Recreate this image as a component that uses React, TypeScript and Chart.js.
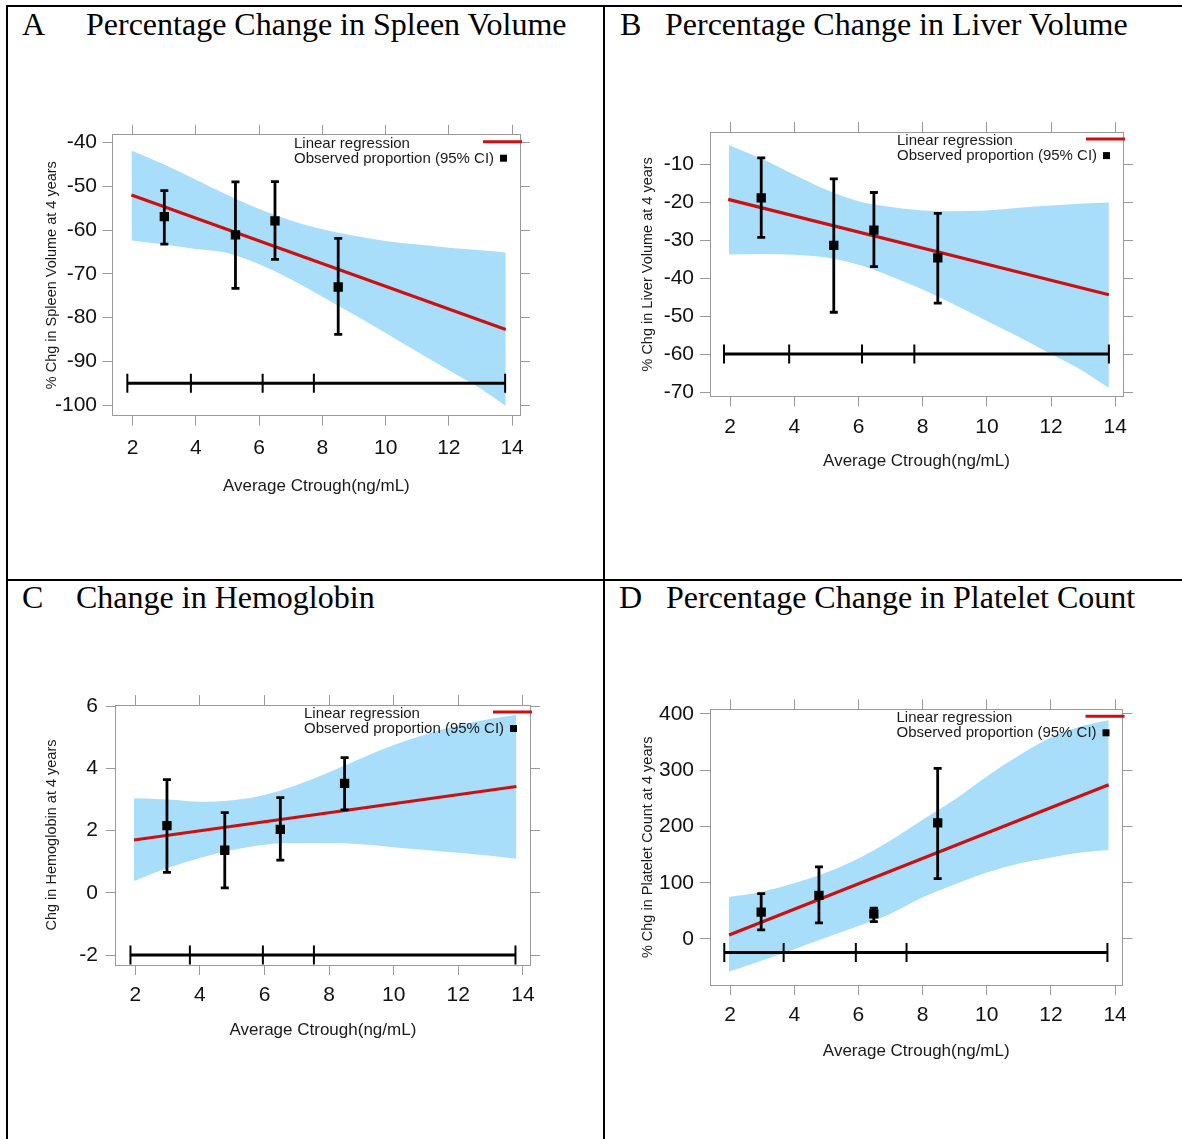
import React, { useEffect, useRef } from "react";
import { Chart, registerables } from "chart.js";

Chart.register(...registerables);

// ---------- shared data ----------
const xTicks = [2, 4, 6, 8, 10, 12, 14];
const bandX = [1.96, 3, 4, 5, 6, 7, 8, 9, 10, 11, 12, 13, 13.8];
const legendLabels = ["Linear regression", "Observed proportion (95% CI)"];
const xAxisTitle = "Average Ctrough(ng/mL)";

// ---------- A: spleen ----------
const spleenYTicks = [-40, -50, -60, -70, -80, -90, -100];
const spleenPointX = [3.0, 5.25, 6.5, 8.5];
const spleenPointY = [-56.9, -61.1, -57.9, -73.0];
const spleenLow = [-63.2, -73.3, -66.7, -83.8];
const spleenHigh = [-51.0, -49.0, -48.9, -61.9];
const spleenLineX = [1.96, 13.8];
const spleenLineY = [-52.0, -82.7];
const spleenUpper = [-41.8, -45.0, -48.5, -52.0, -55.2, -57.8, -59.8, -61.3, -62.5, -63.3, -64.0, -64.6, -65.1];
const spleenLower = [-62.4, -63.3, -64.3, -65.2, -67.8, -71.2, -75.2, -79.3, -83.5, -87.8, -92.0, -96.2, -100.2];
const spleenRugX = [1.83, 3.84, 6.11, 7.73, 13.78];
const spleenRugY = -95;

// ---------- B: liver ----------
const liverYTicks = [-10, -20, -30, -40, -50, -60, -70];
const liverPointX = [2.97, 5.23, 6.48, 8.47];
const liverPointY = [-18.9, -31.4, -27.4, -34.7];
const liverLow = [-29.3, -49.0, -37.0, -46.6];
const liverHigh = [-8.4, -13.9, -17.5, -23.0];
const liverLineX = [1.94, 13.8];
const liverLineY = [-19.3, -44.4];
const liverUpper = [-5.0, -8.7, -12.8, -16.8, -19.8, -21.3, -22.2, -22.4, -22.2, -21.5, -20.9, -20.4, -20.1];
const liverLower = [-33.8, -33.7, -33.9, -34.6, -36.5, -39.5, -43.0, -47.0, -51.3, -55.5, -60.0, -64.5, -68.9];
const liverRugX = [1.81, 3.84, 6.11, 7.74, 13.8];
const liverRugY = -60;

// ---------- C: hemoglobin ----------
const hgbYTicks = [6, 4, 2, 0, -2];
const hgbPointX = [2.98, 4.77, 6.49, 8.48];
const hgbPointY = [2.16, 1.37, 2.04, 3.52];
const hgbLow = [0.66, 0.16, 1.05, 2.67];
const hgbHigh = [3.64, 2.58, 3.06, 4.35];
const hgbLineX = [1.96, 13.8];
const hgbLineY = [1.7, 3.42];
const hgbUpper = [3.04, 3.0, 2.93, 2.98, 3.15, 3.47, 3.88, 4.33, 4.75, 5.1, 5.38, 5.6, 5.72];
const hgbLower = [0.38, 0.8, 1.12, 1.38, 1.55, 1.6, 1.6, 1.56, 1.47, 1.38, 1.29, 1.19, 1.1];
const hgbRugX = [1.85, 3.69, 5.95, 7.53, 13.77];
const hgbRugY = -2;

// ---------- D: platelets ----------
const pltYTicks = [400, 300, 200, 100, 0];
const pltPointX = [2.97, 4.77, 6.48, 8.47];
const pltPointY = [47.7, 77.5, 44.7, 206.3];
const pltLow = [16.1, 28.6, 31.0, 107.3];
const pltHigh = [80.5, 128.2, 54.8, 303.4];
const pltLineX = [1.97, 13.8];
const pltLineY = [7.2, 274.2];
const pltUpper = [74.5, 84, 99, 118, 143, 175, 212, 248, 289, 326, 358, 379, 389];
const pltLower = [-58, -38, -18, 2.5, 23, 45, 74, 97, 118, 134, 145, 154, 158];
const pltRugX = [1.82, 3.67, 5.92, 7.5, 13.76];
const pltRugY = -24;

// ---------- styles ----------
const GRAY = "#9a9a9a";
const RED = "#cc1010";
const BAND = "rgb(168, 222, 250)";
const SANS = "'Liberation Sans', Arial, sans-serif";
const TICK_FONT = 21;
const XTITLE_FONT = 17;
const YTITLE_FONT = 14.5;
const TICK_LEN = 10;

type PanelCfg = {
  letter: string;
  title: string;
  letterLeft: number;
  textLeft: number;
  baseline: number;
  canvas: { left: number; top: number; width: number; height: number };
  box: { l: number; t: number; r: number; b: number };
  xMin: number;
  xMax: number;
  yMin: number;
  yMax: number;
  yTicks: number[];
  yTitle: string;
  xTitleY: number;
  yTitleX: number;
  xLabelY: number;
  yLabelRight: number;
  ptX: number[];
  ptY: number[];
  lo: number[];
  hi: number[];
  lineX: number[];
  lineY: number[];
  upper: number[];
  lower: number[];
  rugX: number[];
  rugY: number;
};

const panels: PanelCfg[] = [
  {
    letter: "A", title: "Percentage Change in Spleen Volume", letterLeft: 22, textLeft: 86, baseline: 35,
    canvas: { left: 8, top: 60, width: 594, height: 518 },
    box: { l: 112.7, t: 134.7, r: 520, b: 415.7 },
    xMin: 1.367, xMax: 14.25, yMin: -102.4, yMax: -38.2, yTicks: spleenYTicks,
    yTitle: "% Chg in Spleen Volume at 4 years", xTitleY: 486, yTitleX: 52, xLabelY: 448, yLabelRight: 97,
    ptX: spleenPointX, ptY: spleenPointY, lo: spleenLow, hi: spleenHigh,
    lineX: spleenLineX, lineY: spleenLineY, upper: spleenUpper, lower: spleenLower,
    rugX: spleenRugX, rugY: spleenRugY,
  },
  {
    letter: "B", title: "Percentage Change in Liver Volume", letterLeft: 620, textLeft: 665, baseline: 35,
    canvas: { left: 605, top: 60, width: 577, height: 518 },
    box: { l: 710, t: 132.1, r: 1123, b: 396.6 },
    xMin: 1.374, xMax: 14.24, yMin: -71.2, yMax: -1.6, yTicks: liverYTicks,
    yTitle: "% Chg in Liver Volume at 4 years", xTitleY: 461, yTitleX: 648, xLabelY: 427, yLabelRight: 694,
    ptX: liverPointX, ptY: liverPointY, lo: liverLow, hi: liverHigh,
    lineX: liverLineX, lineY: liverLineY, upper: liverUpper, lower: liverLower,
    rugX: liverRugX, rugY: liverRugY,
  },
  {
    letter: "C", title: "Change in Hemoglobin", letterLeft: 22, textLeft: 76, baseline: 608,
    canvas: { left: 8, top: 582, width: 594, height: 557 },
    box: { l: 115.8, t: 705, r: 530, b: 965 },
    xMin: 1.396, xMax: 14.22, yMin: -2.32, yMax: 6.04, yTicks: hgbYTicks,
    yTitle: "Chg in Hemoglobin at 4 years", xTitleY: 1030, yTitleX: 52, xLabelY: 995, yLabelRight: 98,
    ptX: hgbPointX, ptY: hgbPointY, lo: hgbLow, hi: hgbHigh,
    lineX: hgbLineX, lineY: hgbLineY, upper: hgbUpper, lower: hgbLower,
    rugX: hgbRugX, rugY: hgbRugY,
  },
  {
    letter: "D", title: "Percentage Change in Platelet Count", letterLeft: 619, textLeft: 666, baseline: 608,
    canvas: { left: 605, top: 582, width: 577, height: 557 },
    box: { l: 710, t: 709.3, r: 1122.5, b: 985.3 },
    xMin: 1.375, xMax: 14.23, yMin: -82.3, yMax: 408.3, yTicks: pltYTicks,
    yTitle: "% Chg in Platelet Count at 4 years", xTitleY: 1051, yTitleX: 648, xLabelY: 1015, yLabelRight: 694,
    ptX: pltPointX, ptY: pltPointY, lo: pltLow, hi: pltHigh,
    lineX: pltLineX, lineY: pltLineY, upper: pltUpper, lower: pltLower,
    rugX: pltRugX, rugY: pltRugY,
  },
];

const latticeLegend = {
  id: "latticeLegend",
  afterDraw(chart: any) {
    const { ctx, chartArea } = chart;
    const { top, right } = chartArea;
    ctx.save();
    ctx.font = `15px ${SANS}`;
    ctx.fillStyle = "#1a1a1a";
    ctx.textBaseline = "middle";
    ctx.textAlign = "left";
    ctx.fillText(legendLabels[0], right - 226, top + 9);
    ctx.fillText(legendLabels[1], right - 226, top + 24);
    ctx.strokeStyle = RED;
    ctx.lineWidth = 3;
    ctx.beginPath();
    ctx.moveTo(right - 37, top + 7);
    ctx.lineTo(right + 2, top + 7);
    ctx.stroke();
    ctx.fillStyle = "#000";
    ctx.fillRect(right - 20, top + 20, 7, 7);
    ctx.restore();
  },
};

function Panel({ p }: { p: PanelCfg }) {
  const ref = useRef<HTMLCanvasElement>(null);
  useEffect(() => {
    const c = p.canvas;
    const topH = p.box.t - c.top;
    const bottomH = c.top + c.height - p.box.b;
    const leftW = p.box.l - c.left;
    const rightW = c.left + c.width - p.box.r;
    const xLH = XTITLE_FONT * 1.2;
    const yLH = YTITLE_FONT * 1.2;
    const xTitlePad = c.top + c.height - p.xTitleY - xLH / 2;
    const yTitlePad = p.yTitleX - c.left - yLH / 2;
    const xLabelPad = p.xLabelY - p.box.b - TICK_LEN - (TICK_FONT * 1.2) / 2;
    const yLabelPad = p.box.l - TICK_LEN - p.yLabelRight;

    const grid = { display: true, drawOnChartArea: false, drawTicks: true, tickLength: TICK_LEN, color: GRAY, lineWidth: 1 };
    const border = { display: true, color: GRAY, width: 1 };
    const setX = (s: any) => { s.ticks = xTicks.map((v) => ({ value: v })); };
    const setY = (s: any) => { s.ticks = p.yTicks.map((v) => ({ value: v })); };

    const datasets: any[] = [];
    datasets.push({
      data: bandX.map((x, i) => ({ x, y: p.upper[i] })),
      borderWidth: 0, borderColor: "rgba(0,0,0,0)", pointRadius: 0, fill: false,
      backgroundColor: BAND, cubicInterpolationMode: "monotone", order: 20,
    });
    datasets.push({
      data: bandX.map((x, i) => ({ x, y: p.lower[i] })),
      borderWidth: 0, borderColor: "rgba(0,0,0,0)", pointRadius: 0, fill: "-1",
      backgroundColor: BAND, cubicInterpolationMode: "monotone", order: 19,
    });
    datasets.push({
      data: p.lineX.map((x, i) => ({ x, y: p.lineY[i] })),
      borderColor: RED, borderWidth: 3.2, pointRadius: 0, fill: false, order: 18,
    });
    datasets.push({
      data: p.rugX.map((x) => ({ x, y: p.rugY })),
      borderColor: "#000", borderWidth: 3, fill: false,
      pointStyle: "line", pointRotation: 90, pointRadius: 9.5,
      pointBorderWidth: 2, pointBorderColor: "#000", pointBackgroundColor: "#000", order: 17,
    });
    p.ptX.forEach((x, i) => {
      datasets.push({
        data: [{ x, y: p.lo[i] }, { x, y: p.hi[i] }],
        borderColor: "#000", borderWidth: 2.8, fill: false,
        pointStyle: "line", pointRadius: 4, pointBorderWidth: 2.8,
        pointBorderColor: "#000", pointBackgroundColor: "#000", order: 10,
      });
    });
    datasets.push({
      data: p.ptX.map((x, i) => ({ x, y: p.ptY[i] })),
      showLine: false, pointStyle: "rect", pointRadius: 6.6, pointBorderWidth: 0,
      pointBackgroundColor: "#000", pointBorderColor: "#000", order: 1,
    });

    const chart = new Chart(ref.current as HTMLCanvasElement, {
      type: "line",
      data: { datasets },
      plugins: [latticeLegend],
      options: {
        animation: false,
        responsive: false,
        devicePixelRatio: 1,
        events: [],
        layout: { padding: 0 },
        plugins: { legend: { display: false }, tooltip: { enabled: false } },
        scales: {
          x: {
            type: "linear", position: "bottom", min: p.xMin, max: p.xMax,
            afterBuildTicks: setX,
            afterFit: (s: any) => { s.height = bottomH; },
            grid, border,
            ticks: {
              color: "#111", font: { family: SANS, size: TICK_FONT }, padding: xLabelPad,
              maxRotation: 0, autoSkip: false, callback: (v: any) => String(v),
            },
            title: {
              display: true, text: xAxisTitle, color: "#1a1a1a",
              font: { family: SANS, size: XTITLE_FONT }, padding: { top: 0, bottom: xTitlePad },
            },
          },
          x2: {
            type: "linear", position: "top", min: p.xMin, max: p.xMax,
            afterBuildTicks: setX,
            afterFit: (s: any) => { s.height = topH; },
            grid, border,
            ticks: { display: false },
          },
          y: {
            type: "linear", position: "left", min: p.yMin, max: p.yMax,
            afterBuildTicks: setY,
            afterFit: (s: any) => { s.width = leftW; },
            grid, border,
            ticks: {
              color: "#111", font: { family: SANS, size: TICK_FONT }, padding: yLabelPad,
              autoSkip: false, callback: (v: any) => String(v),
            },
            title: {
              display: true, text: p.yTitle, color: "#1a1a1a",
              font: { family: SANS, size: YTITLE_FONT }, padding: { top: yTitlePad, bottom: 0 },
            },
          },
          y2: {
            type: "linear", position: "right", min: p.yMin, max: p.yMax,
            afterBuildTicks: setY,
            afterFit: (s: any) => { s.width = rightW; },
            grid, border,
            ticks: { display: false },
          },
        },
      } as any,
    });
    return () => chart.destroy();
  }, [p]);

  const c = p.canvas;
  return (
    <canvas
      ref={ref}
      width={c.width}
      height={c.height}
      style={{ position: "absolute", left: c.left, top: c.top, width: c.width, height: c.height }}
    />
  );
}

const TITLE_SIZE = 32;
const TITLE_ASC = 26.8;

export default function App() {
  const line = (left: number, top: number, width: number, height: number, key: string) => (
    <div key={key} style={{ position: "absolute", left, top, width, height, background: "#000" }} />
  );
  return (
    <div
      style={{
        position: "absolute", left: 0, top: 0, width: 1182, height: 1139, overflow: "hidden",
        background: "#fff", fontFamily: "'Liberation Serif', 'Times New Roman', serif",
      }}
    >
      {line(6, 5, 1176, 2, "top")}
      {line(6, 5, 2, 1134, "left")}
      {line(603, 5, 2, 1134, "mid")}
      {line(6, 579, 1176, 2, "hmid")}
      {panels.map((p) => (
        <React.Fragment key={p.letter}>
          <span
            style={{
              position: "absolute", left: p.letterLeft, top: p.baseline - TITLE_ASC,
              fontSize: TITLE_SIZE, lineHeight: `${TITLE_SIZE}px`, whiteSpace: "nowrap", color: "#000",
            }}
          >
            {p.letter}
          </span>
          <span
            style={{
              position: "absolute", left: p.textLeft, top: p.baseline - TITLE_ASC,
              fontSize: TITLE_SIZE, lineHeight: `${TITLE_SIZE}px`, whiteSpace: "nowrap", color: "#000",
            }}
          >
            {p.title}
          </span>
          <Panel p={p} />
        </React.Fragment>
      ))}
    </div>
  );
}
